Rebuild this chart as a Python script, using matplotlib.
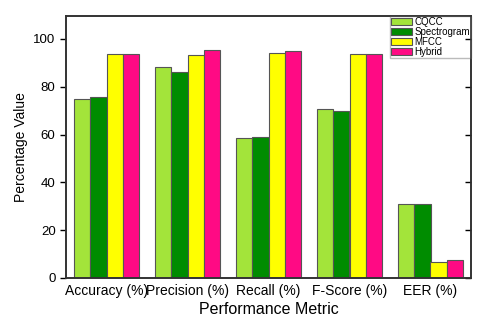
import numpy as np
import matplotlib
matplotlib.use('Agg')
import matplotlib.pyplot as plt

plt.rcParams['font.family'] = ['Liberation Sans', 'DejaVu Sans']

# valores
metrics = ['Accuracy (%)', 'Precision (%)', 'Recall (%)', 'F-Score (%)', 'EER (%)']
cqcc = [74.7, 88.4, 58.7, 70.5, 31.0]
spectrogram = [75.9, 86.0, 59.1, 70.0, 31.0]
mfcc = [93.7, 93.4, 94.0, 93.7, 6.5]
hybrid = [93.7, 95.3, 95.0, 93.7, 7.7]

series = [('CQCC', cqcc, '#a3e43a'),
          ('Spectrogram', spectrogram, '#008c00'),
          ('MFCC', mfcc, '#ffff00'),
          ('Hybrid', hybrid, '#ff0a84')]

fig = plt.figure(figsize=(4.8, 3.22), dpi=100)
ax = fig.add_axes([66/480, 1 - 278/322, 405/480, 262/322])

x = np.arange(len(metrics))
w = 0.2
for i, (name, vals, col) in enumerate(series):
    ax.bar(x + (i - 1.5) * w, vals, w, color=col, edgecolor='#555555',
           linewidth=0.8, label=name)

ax.set_xlim(-0.5, len(metrics) - 0.5)
ax.set_ylim(0, 109.6)
ax.set_yticks(range(0, 101, 20))
ax.set_xticks(x)
ax.set_xticklabels(metrics, fontsize=10)
ax.tick_params(axis='x', length=0, pad=4)
ax.tick_params(axis='y', labelsize=9.5, length=4, width=1, direction='out')

# ticks internos no eixo direito
ax2 = ax.twinx()
ax2.set_ylim(ax.get_ylim())
ax2.set_yticks(range(0, 101, 20))
ax2.tick_params(axis='y', direction='in', length=4, width=1, labelright=False)

for a in (ax, ax2):
    for s in a.spines.values():
        s.set_linewidth(1.2)
        s.set_color('#333333')

ax.set_ylabel('Percentage Value', fontsize=10)
ax.set_xlabel('Performance Metric', fontsize=11.5, labelpad=3)

ax.legend(loc='upper right', bbox_to_anchor=(1.0, 1.0), fontsize=7,
          frameon=True, fancybox=False, edgecolor='#bbbbbb', framealpha=1,
          handlelength=2.1, handleheight=0.7, handletextpad=0.25,
          labelspacing=0.0, borderpad=0.12, borderaxespad=0)

fig.savefig('out.png', dpi=100)
